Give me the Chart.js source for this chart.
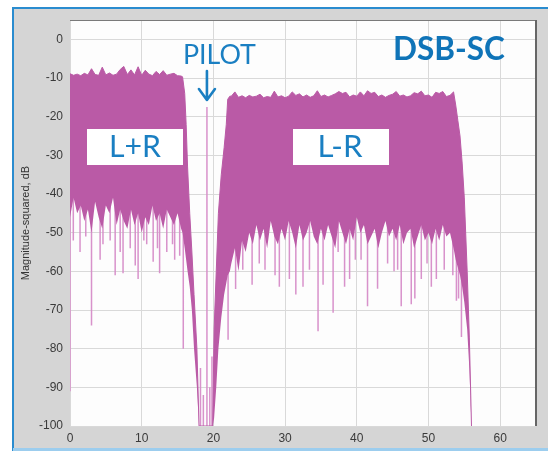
<!DOCTYPE html>
<html>
<head>
<meta charset="utf-8">
<script src="https://cdn.jsdelivr.net/npm/chart.js@4/dist/chart.umd.min.js"></script>
<style>
  html, body { margin: 0; padding: 0; background: #ffffff; }
  canvas { display: block; }
</style>
</head>
<body>
<canvas id="c" width="548" height="451"></canvas>
<script>
// ---------------- DATA (frequency in kHz, level in dB) ----------------
const freqKHz = [
  0, 0.5, 1, 1.5, 2, 2.5, 3, 3.5, 4, 4.5, 5, 5.5, 6, 6.5, 7, 7.5,
  8, 8.5, 9, 9.5, 10, 10.5, 11, 11.5, 12, 12.5, 13, 13.5, 14, 14.5, 15, 15.5,
  15.7, 16.0, 16.2, 16.4, 16.7, 17.0, 17.3, 17.7, 18.0,
  19.9, 20.1, 20.4, 20.7, 21.1, 21.5, 21.8, 22.0, 22.3,
  22.5, 23, 23.5, 24, 24.5, 25, 25.5, 26, 26.5, 27,
  27.5, 28, 28.5, 29, 29.5, 30, 30.5, 31, 31.5, 32,
  32.5, 33, 33.5, 34, 34.5, 35, 35.5, 36, 36.5, 37,
  37.5, 38, 38.5, 39, 39.5, 40, 40.5, 41, 41.5, 42,
  42.5, 43, 43.5, 44, 44.5, 45, 45.5, 46, 46.5, 47,
  47.5, 48, 48.5, 49, 49.5, 50, 50.5, 51, 51.5, 52,
  52.5, 53, 53.5,
  53.8, 54.1, 54.4, 54.7, 55.0, 55.4, 55.7, 55.9, 56.0
];
// upper envelope of the spectrum
const peakDb = [
  -8.9, -9.3, -9.0, -9.4, -8.8, -9.2, -7.6, -9.1, -9.3, -7.2, -9.2, -8.7, -9.3, -9.0, -7.8, -7.0,
  -9.1, -7.9, -9.2, -7.1, -9.3, -8.0, -9.0, -9.4, -8.3, -9.1, -8.1, -9.3, -9.0, -8.8, -9.4, -9.5,
  -9.7, -14, -22, -33, -45, -55, -66, -80, -100,
  -100, -75, -60, -45, -35, -28, -22, -15.5, -14.7,
  -14.7, -13.6, -15.0, -14.6, -15.1, -14.5, -14.9, -14.7, -14.2, -15.1,
  -14.8, -15.0, -13.4, -14.9, -14.6, -15.1, -14.7, -13.6, -14.5, -14.1,
  -14.9, -14.4, -15.0, -14.6, -13.3, -14.8, -14.4, -14.9, -14.5, -14.1,
  -13.5, -14.0, -13.7, -14.9, -14.4, -14.7, -13.6, -14.6, -13.3, -14.0,
  -13.7, -14.8, -14.4, -15.0, -14.5, -14.2, -13.5, -14.7, -14.4, -14.9,
  -14.6, -13.8, -14.1, -13.4, -14.6, -14.4, -15.0, -13.7, -14.0, -13.5,
  -14.8, -14.5, -13.6,
  -17, -21, -25, -32, -41, -60, -77, -92, -100
];
// lower edge of the solid part of the spectrum
const floorDb = [
  -46, -41, -45, -43, -47, -44, -50, -42, -46, -49, -43, -45, -41, -48, -44, -47,
  -49, -44, -48, -45, -50, -46, -48, -43, -47, -45, -49, -44, -46, -48, -45, -49,
  -50, -54, -57, -60, -64, -70, -80, -90, -100,
  -100, -98, -90, -80, -72, -66, -63, -61, -60,
  -58, -54, -60, -52, -55, -50, -53, -48, -52, -49,
  -54, -47, -51, -53, -49, -52, -47, -50, -54, -48,
  -52, -50, -47, -51, -53, -49, -52, -48, -51, -54,
  -47, -50, -53, -49, -52, -46, -50, -48, -53, -51,
  -49, -54, -50, -47, -51, -49, -52, -48, -53, -50,
  -49, -54, -51, -48, -52, -50, -53, -49, -52, -48,
  -51, -50, -54,
  -57, -59, -61, -64, -68, -75, -85, -95, -100
];
// narrow spectral lines / dips (incl. the 19 kHz pilot)
const spikeFreq = [
  0.0, 0.46, 1.4, 2.2, 3.0, 4.2, 4.6, 5.6, 6.3, 7.0, 7.4, 8.4, 9.1, 9.5, 10.3, 10.7,
  11.6, 12.2, 12.5, 13.5, 14.3, 14.6, 15.3, 15.8,
  18.2, 18.6, 19.1, 19.5, 19.8,
  22.05, 23.1, 24.1, 25.4, 26.4, 27.2, 28.6, 29.2, 30.6, 31.5, 32.5, 33.4, 34.6, 35.3,
  36.7, 37.4, 38.3, 39.0, 39.8, 40.6, 41.5, 42.9, 44.3, 45.2, 45.7, 46.2, 47.6, 48.1,
  49.0, 49.8, 50.4, 51.1, 52.2, 53.4, 53.9, 54.2, 54.6
];
const spikeTopDb = [
  -9, -40, -40, -42, -40, -42, -42, -40, -42, -40, -42, -40, -42, -40, -42, -42,
  -40, -42, -42, -40, -42, -42, -42, -45,
  -85, -92, -17.5, -90, -82,
  -55, -50, -48, -48, -48, -46, -48, -48, -46, -48, -48, -46, -48, -46,
  -48, -46, -48, -46, -46, -46, -48, -48, -46, -46, -46, -48, -48, -48,
  -46, -46, -48, -46, -46, -50, -55, -58, -60
];
const spikeLowDb = [
  -91, -52, -55, -51, -74, -57, -53, -52, -61, -55, -60.5, -54, -58.5, -62, -52, -53,
  -57.5, -54, -60.5, -55, -53, -57, -56, -80,
  -100, -100, -100, -100, -100,
  -77.7, -64.6, -59.6, -63.5, -58, -59.6, -61, -64, -62, -66, -64, -59.6, -75.5, -63.5,
  -70.7, -55, -64, -62, -57, -57, -69, -64.5, -58, -60, -59.6, -69, -68.5, -67,
  -62, -58, -64, -62, -59.6, -61, -67.6, -67, -77
];
const xTickValues = [0, 10, 20, 30, 40, 50, 60];
const yTickValues = [0, -10, -20, -30, -40, -50, -60, -70, -80, -90, -100];
const yAxisTitle = 'Magnitude-squared, dB';
const labelPilot = 'PILOT';
const labelSum = 'L+R';
const labelDiff = 'L-R';
const labelMod = 'DSB-SC';

// ---------------- STYLE ----------------
const fillColor = 'rgb(186, 90, 166)';
const spikeColor = 'rgba(214, 140, 200, 0.95)';
const blue = '#1a7fc2';

const peakPts = freqKHz.map((f, i) => ({ x: f, y: peakDb[i] }));
const floorPts = freqKHz.map((f, i) => ({ x: f, y: floorDb[i] }));
const spikePts = [];
spikeFreq.forEach((f, i) => {
  spikePts.push({ x: f, y: spikeTopDb[i] });
  spikePts.push({ x: f, y: spikeLowDb[i] });
  spikePts.push({ x: f, y: null });
});

function fitFont(ctx, text, weight, family, width) {
  ctx.font = weight + ' 40px ' + family;
  const w = ctx.measureText(text).width;
  return 40 * width / w;
}

const decor = {
  id: 'decor',
  beforeDraw(chart) {
    const { ctx, chartArea: a, width, height } = chart;
    ctx.save();
    ctx.fillStyle = '#ffffff';
    ctx.fillRect(0, 0, width, height);
    ctx.fillStyle = '#d5d5d5';
    ctx.fillRect(13, 8, width - 13, height - 8);
    ctx.strokeStyle = '#2a8ccf';
    ctx.lineWidth = 2;
    ctx.beginPath();
    ctx.moveTo(13, height); ctx.lineTo(13, 8); ctx.lineTo(width, 8);
    ctx.stroke();
    ctx.strokeStyle = '#9ccdee';
    ctx.lineWidth = 3;
    ctx.beginPath();
    ctx.moveTo(13, height - 1.5); ctx.lineTo(width, height - 1.5);
    ctx.stroke();
    ctx.fillStyle = '#fdfdfd';
    ctx.fillRect(a.left, a.top, a.right - a.left, a.bottom - a.top);
    ctx.restore();
  },
  afterDatasetsDraw(chart) {
    const { ctx, chartArea: a, scales } = chart;
    ctx.save();
    // plot frame (top + right)
    ctx.strokeStyle = '#7a7a7a';
    ctx.lineWidth = 1;
    ctx.beginPath();
    ctx.moveTo(a.left, a.top + 0.5); ctx.lineTo(a.right, a.top + 0.5);
    ctx.stroke();
    ctx.strokeStyle = '#666666';
    ctx.lineWidth = 2;
    ctx.beginPath();
    ctx.moveTo(a.right, a.top); ctx.lineTo(a.right, a.bottom);
    ctx.stroke();

    // label boxes
    ctx.fillStyle = '#ffffff';
    ctx.fillRect(87, 129, 96, 36);
    ctx.fillRect(293, 129, 96, 36);

    ctx.fillStyle = blue;
    ctx.textBaseline = 'alphabetic';
    const fam = 'Lato, "Open Sans", sans-serif';
    let s = fitFont(ctx, labelSum, 'normal', fam, 52);
    ctx.font = 'normal ' + s + 'px ' + fam;
    ctx.textAlign = 'center';
    ctx.fillText(labelSum, 135, 157);
    s = fitFont(ctx, labelDiff, 'normal', fam, 45);
    ctx.font = 'normal ' + s + 'px ' + fam;
    ctx.fillText(labelDiff, 340, 157);

    ctx.textAlign = 'left';
    s = fitFont(ctx, labelPilot, 'normal', fam, 73);
    ctx.font = 'normal ' + s + 'px ' + fam;
    ctx.fillText(labelPilot, 183, 64);

    ctx.fillStyle = '#0f74b8';
    s = fitFont(ctx, labelMod, 'bold', fam, 112);
    ctx.font = 'bold ' + s + 'px ' + fam;
    ctx.fillText(labelMod, 393, 60);

    // pilot arrow
    const px = scales.x.getPixelForValue(19.1);
    ctx.strokeStyle = blue;
    ctx.lineWidth = 2.6;
    ctx.lineCap = 'round';
    ctx.lineJoin = 'round';
    ctx.beginPath();
    ctx.moveTo(px, 71); ctx.lineTo(px, 100);
    ctx.moveTo(px - 8, 89); ctx.lineTo(px, 100); ctx.lineTo(px + 8, 89);
    ctx.stroke();
    ctx.restore();
  }
};

const tickFont = { family: '"Liberation Sans", Arial, sans-serif', size: 12 };

new Chart(document.getElementById('c'), {
  type: 'line',
  data: {
    datasets: [
      { label: 'peak', data: peakPts, borderColor: fillColor, borderWidth: 1,
        backgroundColor: fillColor, fill: '+1', pointRadius: 0, tension: 0, order: 1 },
      { label: 'floor', data: floorPts, borderColor: 'rgba(0,0,0,0)', borderWidth: 1,
        fill: false, pointRadius: 0, tension: 0, order: 1 },
      { label: 'lines', data: spikePts, borderColor: spikeColor, borderWidth: 1.5,
        fill: false, pointRadius: 0, spanGaps: false, tension: 0, order: 3 }
    ]
  },
  options: {
    responsive: false,
    animation: false,
    events: [],
    layout: { padding: { left: 0, top: 20, right: 12, bottom: 0 } },
    plugins: { legend: { display: false }, tooltip: { enabled: false } },
    scales: {
      x: {
        type: 'linear', min: 0, max: 65,
        afterBuildTicks: (sc) => { sc.ticks = xTickValues.map(v => ({ value: v })); },
        afterFit: (sc) => { sc.height = 25; },
        ticks: { font: tickFont, color: '#3a3a3a', padding: 5, maxRotation: 0 },
        grid: { color: '#d9d9d9', drawTicks: false },
        border: { display: false }
      },
      y: {
        type: 'linear', min: -100, max: 5,
        afterBuildTicks: (sc) => { sc.ticks = yTickValues.map(v => ({ value: v })); },
        afterFit: (sc) => { sc.width = 70; },
        ticks: { font: tickFont, color: '#3a3a3a', padding: 7 },
        grid: { color: '#d9d9d9', drawTicks: false },
        border: { display: false },
        title: { display: true, text: yAxisTitle, color: '#333333',
                 font: { family: '"Liberation Sans", Arial, sans-serif', size: 11 },
                 padding: { top: 19, bottom: 0 } }
      }
    }
  },
  plugins: [decor]
});
</script>
</body>
</html>
